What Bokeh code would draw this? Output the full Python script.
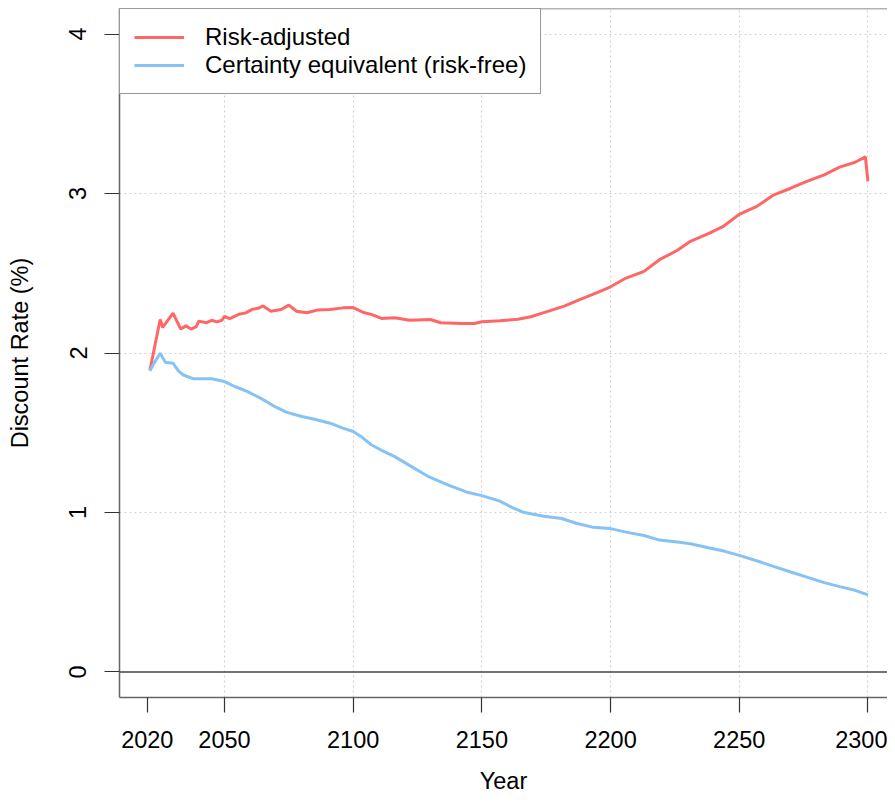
from bokeh.plotting import figure
from bokeh.models import Range1d, FixedTicker, Span, Legend, LegendItem
from bokeh.embed import file_html
from bokeh.resources import INLINE

# ---- data ----
red_years = [2021, 2025, 2026, 2030, 2033, 2035, 2037, 2039, 2040, 2043,
             2045, 2047, 2049, 2050, 2052, 2056, 2058, 2061, 2063, 2065,
             2068, 2072, 2075, 2078, 2082, 2086, 2091, 2096, 2100, 2104,
             2107, 2111, 2116, 2122, 2130, 2134, 2142, 2147, 2150, 2157,
             2164, 2169, 2175, 2182, 2188, 2195, 2200, 2206, 2213, 2219,
             2226, 2231, 2238, 2244, 2250, 2257, 2263, 2270, 2276, 2283,
             2289, 2295, 2299, 2300]
red_vals = [1.89, 2.21, 2.16, 2.25, 2.15, 2.17, 2.15, 2.165, 2.20, 2.19,
            2.205, 2.195, 2.205, 2.23, 2.215, 2.245, 2.25, 2.275, 2.28, 2.295,
            2.262, 2.273, 2.30, 2.262, 2.252, 2.269, 2.273, 2.283, 2.285, 2.254,
            2.242, 2.217, 2.221, 2.206, 2.21, 2.19, 2.185, 2.185, 2.196, 2.202,
            2.212, 2.227, 2.258, 2.294, 2.335, 2.38, 2.415, 2.47, 2.512, 2.585,
            2.644, 2.70, 2.748, 2.796, 2.869, 2.921, 2.988, 3.033, 3.075, 3.117,
            3.165, 3.196, 3.23, 3.077]

blue_years = [2021, 2023, 2025, 2027, 2030, 2032, 2034, 2038, 2041, 2045,
              2050, 2054, 2059, 2064, 2069, 2074, 2080, 2085, 2091, 2096,
              2100, 2103, 2107, 2111, 2116, 2122, 2129, 2137, 2144, 2150,
              2157, 2162, 2166, 2174, 2181, 2187, 2193, 2200, 2206, 2213,
              2219, 2226, 2231, 2238, 2244, 2250, 2257, 2263, 2270, 2276,
              2283, 2289, 2295, 2300]
blue_vals = [1.889, 1.946, 1.998, 1.942, 1.936, 1.889, 1.862, 1.838, 1.838, 1.838,
             1.821, 1.79, 1.758, 1.717, 1.669, 1.629, 1.602, 1.585, 1.56, 1.529,
             1.508, 1.477, 1.425, 1.39, 1.352, 1.294, 1.227, 1.171, 1.129, 1.106,
             1.071, 1.029, 1.002, 0.977, 0.962, 0.931, 0.908, 0.899, 0.877, 0.856,
             0.827, 0.815, 0.804, 0.779, 0.758, 0.731, 0.696, 0.664, 0.627, 0.596,
             0.56, 0.535, 0.512, 0.483]

x_ticks = [2020, 2050, 2100, 2150, 2200, 2250, 2300]
x_grid = [2050, 2100, 2150, 2200, 2250, 2300]
y_ticks = [0, 1, 2, 3, 4]
y_grid = [1, 2, 3, 4]
series_names = ["Risk-adjusted", "Certainty equivalent (risk-free)"]

RED = "#FF6666"
BLUE = "#86C2F4"
FONT = "Liberation Sans"
FS = "23.5px"
BOX = "#666666"

p = figure(width=887, height=796, output_backend="svg", toolbar_location=None,
           x_range=Range1d(2009.2, 2307.6), y_range=Range1d(-0.16, 4.16),
           min_border_left=119, min_border_right=0, min_border_top=8,
           min_border_bottom=97)
p.background_fill_color = "white"
p.border_fill_color = "white"
p.outline_line_color = None

# grid
p.xgrid.ticker = FixedTicker(ticks=x_grid)
p.ygrid.ticker = FixedTicker(ticks=y_grid)
for g in (p.xgrid, p.ygrid):
    g.grid_line_color = "#D3D3D3"
    g.grid_line_dash = "2 3"
    g.grid_line_width = 1.2

# axes
p.xaxis.ticker = FixedTicker(ticks=x_ticks)
p.yaxis.ticker = FixedTicker(ticks=y_ticks)
p.xaxis.axis_label = "Year"
p.yaxis.axis_label = "Discount Rate (%)"
for ax in (p.xaxis, p.yaxis):
    ax.axis_line_color = BOX
    ax.axis_line_width = 1.5
    ax.major_tick_line_color = "#333333"
    ax.major_tick_line_width = 1.2
    ax.major_tick_in = 0
    ax.major_tick_out = 15
    ax.minor_tick_line_color = None
    ax.major_label_text_font = FONT
    ax.major_label_text_font_size = FS
    ax.major_label_text_color = "black"
    ax.axis_label_text_font = FONT
    ax.axis_label_text_font_size = FS
    ax.axis_label_text_font_style = "normal"
    ax.axis_label_text_color = "black"
p.xaxis.major_label_standoff = 18
p.xaxis.axis_label_standoff = 17
p.yaxis.major_label_standoff = 18
p.yaxis.axis_label_standoff = 34
p.yaxis.major_label_orientation = "parallel"

# top edge of the plot box (its right edge lies beyond the picture)
p.add_layout(Span(location=p.y_range.end, dimension="width", line_color=BOX, line_width=1.5))
# zero line
p.add_layout(Span(location=0, dimension="width", line_color="#444444", line_width=1.5))

r1 = p.line(red_years, red_vals, line_color=RED, line_width=3)
r2 = p.line(blue_years, blue_vals, line_color=BLUE, line_width=3)

legend = Legend(items=[LegendItem(label=series_names[0], renderers=[r1]),
                       LegendItem(label=series_names[1], renderers=[r2])],
                location="top_left", margin=0, padding=14, spacing=0,
                glyph_width=50, label_standoff=21,
                label_text_font=FONT, label_text_font_size="24px",
                label_text_color="black",
                border_line_color="#333333", border_line_width=1.5,
                background_fill_color="white", background_fill_alpha=1.0)
p.add_layout(legend)

open("out.html", "w").write(file_html(p, INLINE))
